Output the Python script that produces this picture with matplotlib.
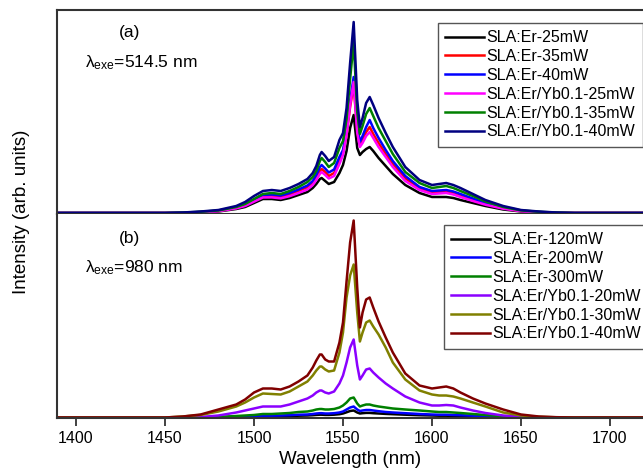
import matplotlib
matplotlib.use("Agg")
import matplotlib.pyplot as plt

plt.rcParams['font.family'] = ['Liberation Sans', 'DejaVu Sans']
plt.rcParams['mathtext.fontset'] = 'custom'
plt.rcParams['mathtext.rm'] = 'Liberation Sans'
plt.rcParams['mathtext.it'] = 'Liberation Sans:italic'

# Wavelength grid (nm)
wavelength = [1388, 1450, 1460, 1470, 1480, 1490, 1495, 1500, 1505, 1510, 1515, 1520, 1525,
              1530, 1533, 1535, 1537, 1538, 1540, 1542, 1545, 1548, 1550, 1552, 1554, 1556,
              1558, 1559.5, 1561, 1563, 1565, 1567, 1570, 1574, 1578, 1585, 1593, 1600, 1604,
              1608, 1612, 1616, 1623, 1630, 1640, 1650, 1660, 1670, 1680, 1725]

# (a) excitation 514.5 nm
a_labels = ['SLA:Er-25mW', 'SLA:Er-35mW', 'SLA:Er-40mW',
            'SLA:Er/Yb0.1-25mW', 'SLA:Er/Yb0.1-35mW', 'SLA:Er/Yb0.1-40mW']
a_er25 = [0, 0, 0, 0.5, 1.5, 4, 6, 10, 14, 14, 13, 15, 18, 21, 25, 29, 34, 35, 32, 29, 31, 40, 48, 62,
          85, 98, 65, 58, 61, 64, 66, 62, 55, 47, 39, 28, 20, 16, 16, 16, 15, 13, 10, 7, 3.5, 1.5,
          0.5, 0, 0, 0]
a_er35 = [0, 0, 0.2, 0.9, 2, 5, 7.8, 12.5, 17, 17.3, 16.3, 18.7, 22, 25.8, 30.5, 35.5, 42, 44, 41,
          37, 40, 52, 60, 78, 106, 128, 82, 68, 73, 81, 86, 79, 70, 59, 49, 34.5, 25, 20.5, 21,
          21.5, 20, 17.5, 13.3, 9.2, 4.8, 2, 0.9, 0.2, 0, 0]
a_er40 = [0, 0, 0.2, 1, 2.2, 5.4, 8.4, 13.4, 18, 18.5, 17.5, 20, 23.5, 27.5, 32, 38, 46, 48, 44.5,
          40.5, 43.5, 56, 63, 82, 112, 136, 87, 71, 77, 86, 93, 85, 75, 63, 52, 37, 26, 22, 22.5,
          23, 21.5, 19, 14.5, 10, 5.2, 2.2, 1, 0.2, 0, 0]
a_yb25 = [0, 0, 0.1, 0.7, 1.8, 4.6, 7, 11.3, 15.5, 15.6, 14.6, 16.8, 20, 23.5, 28, 33, 39, 41, 38,
          34.5, 37, 49, 58, 78, 108, 131, 80, 66, 70, 77, 81, 75, 66, 56, 46, 32, 23, 19, 19.5,
          20, 18.5, 16, 12, 8.3, 4.3, 1.8, 0.7, 0.1, 0, 0]
a_yb35 = [0, 0, 0.4, 1.2, 2.5, 6, 9, 14, 19, 20, 19, 22, 26, 31, 36, 42, 52, 55, 51, 46, 50, 65, 72,
          94, 134, 171, 101, 79, 87, 99, 105, 97, 85, 72, 59, 41, 30, 25, 26, 27, 25, 22, 17, 11.5,
          6, 2.6, 1.2, 0.4, 0, 0]
a_yb40 = [0, 0, 0.5, 1.5, 3, 7, 11, 17, 22, 23, 22, 25, 29, 34, 40, 47, 58, 61, 57, 52, 56, 73, 80,
          105, 150, 191, 113, 86, 95, 110, 116, 108, 95, 80, 66, 46, 33, 28, 29, 30, 28, 25, 19, 13,
          7, 3, 1.5, 0.5, 0, 0]
a_colors = ['#000000', '#ff0000', '#0000ff', '#ff00ff', '#008000', '#000080']

# (b) excitation 980 nm
b_labels = ['SLA:Er-120mW', 'SLA:Er-200mW', 'SLA:Er-300mW',
            'SLA:Er/Yb0.1-20mW', 'SLA:Er/Yb0.1-30mW', 'SLA:Er/Yb0.1-40mW']
b_er120 = [0, 0, 0, 0, 0.2, 0.5, 0.7, 0.9, 1.2, 1.2, 1.3, 1.5, 1.8, 2, 2.3, 2.6, 2.8, 2.8, 2.6, 2.6,
           2.8, 3.3, 4, 5.2, 6.5, 7, 5, 4, 4.3, 4.6, 4.6, 4.3, 4, 3.6, 3.3, 2.8, 2.3, 2, 1.8, 1.8,
           1.6, 1.5, 1.2, 0.8, 0.4, 0.2, 0.1, 0, 0, 0]
b_er200 = [0, 0, 0, 0, 0.3, 0.8, 1, 1.3, 1.8, 1.8, 2, 2.3, 2.8, 3, 3.5, 4, 4.3, 4.3, 4, 4, 4.3, 5, 6,
           8, 10, 11, 8, 6.5, 7, 7.5, 7.5, 7, 6.3, 5.5, 5, 4.3, 3.5, 3, 2.8, 2.8, 2.5, 2.3, 1.8,
           1.3, 0.6, 0.3, 0.1, 0, 0, 0]
b_er300 = [0, 0, 0, 0, 0.5, 1.5, 2, 2.5, 3.5, 3.5, 4, 4.5, 5.5, 6, 7, 8, 8.5, 8.5, 8, 8, 8.5, 10, 12,
           15, 19, 20, 14, 11, 12, 13, 13, 12, 11, 10, 9, 8, 7, 6, 5.5, 5.5, 5, 4.5, 3.5, 2.5, 1.2,
           0.5, 0.2, 0, 0, 0]
b_yb20 = [0, 0, 0, 0.5, 2, 5, 7, 9, 11, 11, 11, 13, 16, 19, 22, 25, 27, 27, 25, 24, 26, 34, 42, 55,
          70, 78, 52, 38, 42, 48, 49, 45, 40, 34, 29, 21, 15, 12, 12, 12.5, 12, 10, 7, 4.5, 2, 0.8,
          0.3, 0, 0, 0]
b_yb30 = [0, 0, 1, 2.5, 6, 11, 15, 20, 24, 23.5, 23, 26, 31, 36, 42, 47, 51, 51, 48, 46, 47, 65, 85,
          120, 142, 153, 105, 76, 85, 95, 97, 91, 83, 70, 55, 38, 27, 23, 22, 22, 21, 19, 15, 11, 5,
          2, 0.7, 0.2, 0, 0]
b_yb40 = [0, 0, 1, 3, 8, 13, 18, 25, 29, 29, 28, 31, 36, 42, 50, 57, 63, 63, 58, 56, 56, 75, 95, 136,
          175, 197, 130, 90, 105, 118, 120, 110, 96, 80, 65, 44, 32, 29, 30, 31, 29, 25, 19, 14, 8,
          3, 1, 0.3, 0, 0]
b_colors = ['#000000', '#0000ff', '#008000', '#8b00ff', '#808000', '#800000']

xticks = [1400, 1450, 1500, 1550, 1600, 1650, 1700]

fig = plt.figure(figsize=(6.43, 4.71), dpi=100)
ax1 = fig.add_axes([0.08865, 0.54565, 0.91446, 0.43312])
ax2 = fig.add_axes([0.08865, 0.11253, 0.91446, 0.43312])

spine_c = '#333333'
for ax in (ax1, ax2):
    ax.set_xlim(1389.3, 1719.7)
    ax.set_yticks([])
    ax.spines['right'].set_visible(False)
    for s in ('left', 'top', 'bottom'):
        ax.spines[s].set_linewidth(1.5)
        ax.spines[s].set_color(spine_c)
ax2.spines['top'].set_visible(False)

ax1.set_ylim(-1, 203)
ax2.set_ylim(-0.5, 203.5)
ax1.set_xticks([])
ax2.set_xticks(xticks)
ax2.tick_params(axis='x', direction='out', length=5.5, width=1.3, color=spine_c,
                labelsize=11.5, pad=4)

for ys, lab, c in zip([a_er25, a_er35, a_er40, a_yb25, a_yb35, a_yb40], a_labels, a_colors):
    ax1.plot(wavelength, ys, color=c, lw=1.8, label=lab, solid_joinstyle='round')
for ys, lab, c in zip([b_er120, b_er200, b_er300, b_yb20, b_yb30, b_yb40], b_labels, b_colors):
    ax2.plot(wavelength, ys, color=c, lw=1.8, label=lab, solid_joinstyle='round')

leg_kw = dict(loc='upper left', fontsize=11.5, frameon=True, fancybox=False,
              edgecolor='#555555', framealpha=1, handlelength=2.4, handletextpad=0.2,
              labelspacing=0.24, borderpad=0.45, borderaxespad=0)
l1 = ax1.legend(bbox_to_anchor=(438 / 643, 1 - 23 / 471), bbox_transform=fig.transFigure, **leg_kw)
l2 = ax2.legend(bbox_to_anchor=(444 / 643, 1 - 225 / 471), bbox_transform=fig.transFigure, **leg_kw)
for l in (l1, l2):
    l.get_frame().set_linewidth(1.0)
    for h in l.get_lines():
        h.set_linewidth(1.8)

fig.text(130 / 643, 1 - 33 / 471, '(a)', fontsize=12.5, ha='center', va='center')
fig.text(85 / 643, 1 - 63 / 471, r'λ$_{\rm exe}$=514.5 nm', fontsize=12.5, ha='left', va='center')
fig.text(130 / 643, 1 - 238 / 471, '(b)', fontsize=12.5, ha='center', va='center')
fig.text(85 / 643, 1 - 268 / 471, r'λ$_{\rm exe}$=980 nm', fontsize=12.5, ha='left', va='center')

fig.text(22 / 643, 1 - 212 / 471, 'Intensity (arb. units)', fontsize=13.5, rotation=90,
         ha='center', va='center')
fig.text(350 / 643, 1 - 460 / 471, 'Wavelength (nm)', fontsize=13.5, ha='center', va='center')

fig.savefig('out.png', dpi=100)
